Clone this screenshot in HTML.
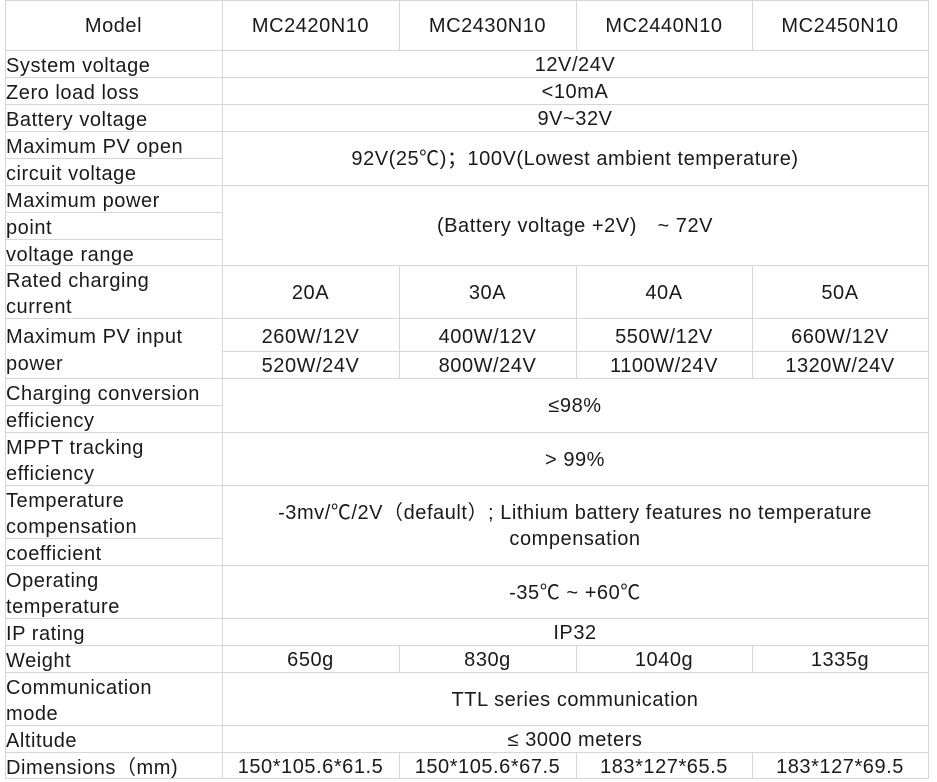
<!DOCTYPE html>
<html><head><meta charset="utf-8"><style>
body{margin:0;width:937px;height:779px;background:#fff;position:relative;overflow:hidden;font-family:"Liberation Sans","Noto Sans CJK SC",sans-serif;font-size:20px;color:#1a1a1a;letter-spacing:0.55px}
.h{position:absolute;height:1px;background:#d6d6d6}
.v{position:absolute;width:1px;background:#d6d6d6}
.t{position:absolute;white-space:nowrap;line-height:27px;height:27px;margin-top:2px}
.c{position:absolute;text-align:center;display:flex;align-items:center;justify-content:center;line-height:26px;padding-top:2px;box-sizing:border-box}
</style></head><body>
<div class="h" style="left:5px;width:923px;top:0"></div>
<div class="h" style="left:5px;width:923px;top:50px"></div>
<div class="h" style="left:5px;width:923px;top:77px"></div>
<div class="h" style="left:5px;width:923px;top:104px"></div>
<div class="h" style="left:5px;width:923px;top:131px"></div>
<div class="h" style="left:5px;width:923px;top:185px"></div>
<div class="h" style="left:5px;width:923px;top:265px"></div>
<div class="h" style="left:5px;width:923px;top:318px"></div>
<div class="h" style="left:222px;width:706px;top:351px"></div>
<div class="h" style="left:5px;width:923px;top:378px"></div>
<div class="h" style="left:5px;width:923px;top:432px"></div>
<div class="h" style="left:5px;width:923px;top:485px"></div>
<div class="h" style="left:5px;width:923px;top:565px"></div>
<div class="h" style="left:5px;width:923px;top:618px"></div>
<div class="h" style="left:5px;width:923px;top:645px"></div>
<div class="h" style="left:5px;width:923px;top:672px"></div>
<div class="h" style="left:5px;width:923px;top:725px"></div>
<div class="h" style="left:5px;width:923px;top:752px"></div>
<div class="h" style="left:5px;width:923px;top:778px"></div>
<div class="h" style="left:5px;width:217px;top:158px"></div>
<div class="h" style="left:5px;width:217px;top:212px"></div>
<div class="h" style="left:5px;width:217px;top:239px"></div>
<div class="h" style="left:5px;width:217px;top:405px"></div>
<div class="h" style="left:5px;width:217px;top:538px"></div>
<div class="v" style="left:5px;top:0;height:779px"></div>
<div class="v" style="left:222px;top:0;height:779px"></div>
<div class="v" style="left:928px;top:0;height:779px"></div>
<div class="v" style="left:399px;top:0;height:50px"></div>
<div class="v" style="left:576px;top:0;height:50px"></div>
<div class="v" style="left:752px;top:0;height:50px"></div>
<div class="v" style="left:399px;top:265px;height:113px"></div>
<div class="v" style="left:576px;top:265px;height:113px"></div>
<div class="v" style="left:752px;top:265px;height:113px"></div>
<div class="v" style="left:399px;top:645px;height:27px"></div>
<div class="v" style="left:576px;top:645px;height:27px"></div>
<div class="v" style="left:752px;top:645px;height:27px"></div>
<div class="v" style="left:399px;top:752px;height:27px"></div>
<div class="v" style="left:576px;top:752px;height:27px"></div>
<div class="v" style="left:752px;top:752px;height:27px"></div>

<div class="c" style="left:5px;width:217px;top:0;height:50px">Model</div>
<div class="c" style="left:222px;width:177px;top:0;height:50px">MC2420N10</div>
<div class="c" style="left:399px;width:177px;top:0;height:50px">MC2430N10</div>
<div class="c" style="left:576px;width:176px;top:0;height:50px">MC2440N10</div>
<div class="c" style="left:752px;width:176px;top:0;height:50px">MC2450N10</div>

<div class="t" style="left:6px;top:51px">System voltage</div>
<div class="t" style="left:6px;top:78px">Zero load loss</div>
<div class="t" style="left:6px;top:105px">Battery voltage</div>
<div class="t" style="left:6px;top:132px">Maximum PV open</div>
<div class="t" style="left:6px;top:159px">circuit voltage</div>
<div class="t" style="left:6px;top:186px">Maximum power</div>
<div class="t" style="left:6px;top:213px">point</div>
<div class="t" style="left:6px;top:240px">voltage range</div>
<div class="t" style="left:6px;top:266px">Rated charging</div>
<div class="t" style="left:6px;top:292px">current</div>
<div class="t" style="left:6px;top:322px">Maximum PV input</div>
<div class="t" style="left:6px;top:349px">power</div>
<div class="t" style="left:6px;top:379px">Charging conversion</div>
<div class="t" style="left:6px;top:406px">efficiency</div>
<div class="t" style="left:6px;top:433px">MPPT tracking</div>
<div class="t" style="left:6px;top:459px">efficiency</div>
<div class="t" style="left:6px;top:486px">Temperature</div>
<div class="t" style="left:6px;top:512px">compensation</div>
<div class="t" style="left:6px;top:539px">coefficient</div>
<div class="t" style="left:6px;top:566px">Operating</div>
<div class="t" style="left:6px;top:592px">temperature</div>
<div class="t" style="left:6px;top:619px">IP rating</div>
<div class="t" style="left:6px;top:646px">Weight</div>
<div class="t" style="left:6px;top:673px">Communication</div>
<div class="t" style="left:6px;top:699px">mode</div>
<div class="t" style="left:6px;top:726px">Altitude</div>
<div class="t" style="left:6px;top:753px">Dimensions（mm)</div>

<div class="c" style="left:222px;width:706px;top:50px;height:27px">12V/24V</div>
<div class="c" style="left:222px;width:706px;top:77px;height:27px">&lt;10mA</div>
<div class="c" style="left:222px;width:706px;top:104px;height:27px">9V~32V</div>
<div class="c" style="left:222px;width:706px;top:131px;height:54px">92V(25℃)；100V(Lowest ambient temperature)</div>
<div class="c" style="left:222px;width:706px;top:185px;height:80px">(Battery voltage +2V)　~ 72V</div>
<div class="c" style="left:222px;width:706px;top:378px;height:54px">≤98%</div>
<div class="c" style="left:222px;width:706px;top:432px;height:53px">&gt; 99%</div>
<div class="c" style="left:222px;width:706px;top:485px;height:80px">-3mv/℃/2V（default）; Lithium battery features no temperature<br>compensation</div>
<div class="c" style="left:222px;width:706px;top:565px;height:53px">-35℃ ~ +60℃</div>
<div class="c" style="left:222px;width:706px;top:618px;height:27px">IP32</div>
<div class="c" style="left:222px;width:706px;top:672px;height:53px">TTL series communication</div>
<div class="c" style="left:222px;width:706px;top:725px;height:27px">≤ 3000 meters</div>

<div class="c" style="left:222px;width:177px;top:265px;height:53px">20A</div>
<div class="c" style="left:399px;width:177px;top:265px;height:53px">30A</div>
<div class="c" style="left:576px;width:176px;top:265px;height:53px">40A</div>
<div class="c" style="left:752px;width:176px;top:265px;height:53px">50A</div>
<div class="c" style="left:222px;width:177px;top:320px;height:31px">260W/12V</div>
<div class="c" style="left:399px;width:177px;top:320px;height:31px">400W/12V</div>
<div class="c" style="left:576px;width:176px;top:320px;height:31px">550W/12V</div>
<div class="c" style="left:752px;width:176px;top:320px;height:31px">660W/12V</div>
<div class="c" style="left:222px;width:177px;top:351px;height:27px">520W/24V</div>
<div class="c" style="left:399px;width:177px;top:351px;height:27px">800W/24V</div>
<div class="c" style="left:576px;width:176px;top:351px;height:27px">1100W/24V</div>
<div class="c" style="left:752px;width:176px;top:351px;height:27px">1320W/24V</div>
<div class="c" style="left:222px;width:177px;top:645px;height:27px">650g</div>
<div class="c" style="left:399px;width:177px;top:645px;height:27px">830g</div>
<div class="c" style="left:576px;width:176px;top:645px;height:27px">1040g</div>
<div class="c" style="left:752px;width:176px;top:645px;height:27px">1335g</div>
<div class="c" style="left:222px;width:177px;top:752px;height:27px">150*105.6*61.5</div>
<div class="c" style="left:399px;width:177px;top:752px;height:27px">150*105.6*67.5</div>
<div class="c" style="left:576px;width:176px;top:752px;height:27px">183*127*65.5</div>
<div class="c" style="left:752px;width:176px;top:752px;height:27px">183*127*69.5</div>
</body></html>
